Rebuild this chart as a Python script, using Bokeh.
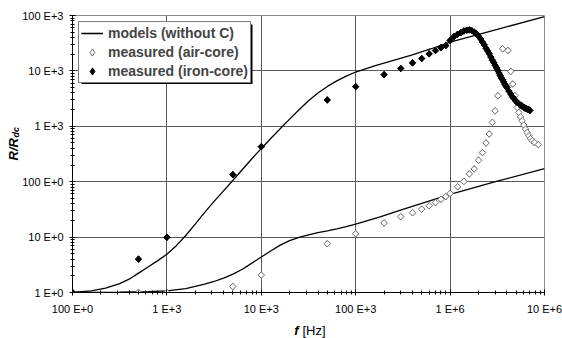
import math
from bokeh.plotting import figure
from bokeh.models import Range1d, FixedTicker, Legend, LegendItem, Label, BoxAnnotation
from bokeh.embed import file_html
from bokeh.resources import INLINE

# ---------------- data ----------------
# model curve, iron-core (upper)
model_hi_f = [100, 158, 224, 316, 398, 501, 631, 794, 1000, 1259, 1585, 1995, 2512, 3162, 3981,
              5012, 6310, 7943, 10000, 12589, 15849, 19953, 25119, 31623, 39811, 50119, 63096,
              79433, 100000, 158489, 251189, 398107, 630957, 1000000, 3162278, 10000000]
model_hi_r = [1.00, 1.07, 1.20, 1.45, 1.74, 2.24, 2.88, 3.72, 4.90, 7.0, 10.7, 17.2, 27.9, 44.2, 68.4,
              106, 166, 260, 398, 603, 902, 1349, 1995, 2884, 3981, 5248, 6607,
              8035, 9550, 12300, 15490, 19500, 25120, 33100, 56230, 95500]

# model curve, air-core (lower)
model_lo_f = [100, 316, 631, 1000, 1585, 2512, 3162, 3981, 5012, 6310, 7943, 10000, 12589, 15849,
              19953, 25119, 31623, 39811, 50119, 63096, 79433, 100000, 177828, 316228, 1000000,
              3162278, 10000000]
model_lo_r = [1.00, 1.01, 1.035, 1.07, 1.17, 1.41, 1.58, 1.82, 2.14, 2.63, 3.39, 4.37, 5.62, 7.16,
              8.61, 9.89, 10.96, 12.0, 13.0, 14.1, 15.5, 17.2, 22.9, 31.6, 58.9, 102, 172]

# measured, air-core
air_f = [100, 500, 1000, 5000, 10000, 50000, 100000, 200000, 300000, 400000, 500000, 600000,
         700000, 800000, 900000, 1.0e6, 1.2e6, 1.4e6, 1.6e6, 1.8e6, 2.0e6, 2.2e6, 2.4e6, 2.6e6,
         2.8e6, 3.0e6, 3.2e6, 3.6e6, 4.1e6, 4.4e6, 4.6e6, 4.85e6, 5.14e6, 5.35e6, 5.57e6, 5.8e6,
         6.04e6, 6.3e6, 6.56e6, 6.84e6, 7.1e6, 7.4e6, 7.8e6, 8.6e6]
air_r = [1.0, 1.0, 1.0, 1.28, 2.06, 7.6, 11.5, 18, 23.3, 27.5, 32, 36.8,
         42, 48, 54, 61.5, 81, 101, 138, 170, 245, 335, 500, 725,
         1180, 1900, 3550, 25000, 23400, 9800, 5800, 3580, 2190, 1780, 1480, 1260,
         1050, 890, 776, 676, 600, 550, 513, 468]

# measured, iron-core
iron_f = [100, 500, 1000, 5000, 10000, 50000, 100000, 200000, 300000, 400000, 500000, 600000,
          700000, 800000, 900000,
          1.0e6, 1.1e6, 1.2e6, 1.3e6, 1.4e6, 1.5e6, 1.6e6, 1.7e6, 1.8e6, 1.9e6,
          2.0e6, 2.1e6, 2.2e6, 2.3e6, 2.4e6, 2.5e6, 2.6e6, 2.7e6, 2.8e6, 2.9e6,
          3.0e6, 3.1e6, 3.2e6, 3.3e6, 3.4e6, 3.5e6, 3.6e6, 3.7e6, 3.8e6, 3.9e6,
          4.0e6, 4.2e6, 4.4e6, 4.6e6, 4.8e6, 5.0e6, 5.2e6, 5.4e6, 5.6e6, 5.8e6,
          6.0e6, 6.2e6, 6.4e6, 6.6e6, 6.8e6, 7.0e6]
iron_r = [1.0, 4.0, 9.9, 134, 429, 2990, 5200, 8550, 11100, 13960, 16700, 20300,
          23300, 26300, 28600,
          35480, 41690, 45710, 48980, 52480, 54330, 54950, 53090, 50120, 46770,
          42170, 38020, 33110, 29510, 25700, 22910, 20420, 17780, 15670, 14130,
          12590, 11350, 10230, 9120, 8220, 7410, 6920, 6310, 5750, 5370,
          5010, 4320, 3800, 3350, 3090, 2820, 2660, 2510, 2400, 2320,
          2210, 2140, 2090, 2040, 2000, 1930]

x_ticks = [100, 1000, 10000, 100000, 1000000, 10000000]
x_tick_labels = ["100 E+0", "1 E+3", "10 E+3", "100 E+3", "1 E+6", "10 E+6"]
y_ticks = [1, 10, 100, 1000, 10000, 100000]
y_tick_labels = ["1 E+0", "10 E+0", "100 E+0", "1 E+3", "10 E+3", "100 E+3"]

legend_labels = ["models (without C)", "measured (air-core)", "measured (iron-core)"]

# ---------------- layout ----------------
FONT = "Liberation Sans"
W, H = 562, 338
FL, FR, FT, FB = 72, 544, 15, 292          # frame edges in page pixels
XMIN, XMAX, YMIN, YMAX = 100, 1e7, 1, 1e5


def px2x(px):
    return 10 ** (math.log10(XMIN) + (px - FL) / (FR - FL) * (math.log10(XMAX) - math.log10(XMIN)))


def py2y(py):
    return 10 ** (math.log10(YMIN) + (FB - py) / (FB - FT) * (math.log10(YMAX) - math.log10(YMIN)))


p = figure(width=W, height=H, x_axis_type="log", y_axis_type="log",
           x_range=Range1d(XMIN, XMAX), y_range=Range1d(YMIN, YMAX),
           output_backend="svg", toolbar_location=None,
           min_border_left=FL, min_border_right=W - FR, min_border_top=FT, min_border_bottom=H - FB)
p.background_fill_color = "white"
p.border_fill_color = "white"
p.outline_line_color = "#8c8c8c"
p.outline_line_width = 1

x_minor = [m * 10 ** d for d in range(2, 7) for m in range(2, 10)]
y_minor = [m * 10 ** d for d in range(0, 5) for m in range(2, 10)]

p.xaxis.ticker = FixedTicker(ticks=x_ticks, minor_ticks=x_minor)
p.yaxis.ticker = FixedTicker(ticks=y_ticks, minor_ticks=y_minor)
p.xaxis.major_label_overrides = {t: s for t, s in zip(x_ticks, x_tick_labels)}
p.yaxis.major_label_overrides = {t: s for t, s in zip(y_ticks, y_tick_labels)}

for ax in (p.xaxis[0], p.yaxis[0]):
    ax.axis_line_color = "black"
    ax.axis_line_width = 1
    ax.major_tick_line_color = "black"
    ax.major_tick_in = 3
    ax.major_tick_out = 3
    ax.minor_tick_line_color = "black"
    ax.minor_tick_in = 2
    ax.minor_tick_out = 2
    ax.major_label_text_font = FONT
    ax.major_label_text_font_size = "11px"
    ax.major_label_text_color = "black"
p.xaxis.major_label_standoff = 7
p.yaxis.major_label_standoff = 6

p.xgrid.ticker = FixedTicker(ticks=x_ticks[1:-1])
p.ygrid.ticker = FixedTicker(ticks=y_ticks[1:-1])
for g in (p.xgrid[0], p.ygrid[0]):
    g.grid_line_color = "#5a5a5a"
    g.grid_line_width = 1

# ---------------- glyphs ----------------
l_hi = p.line(model_hi_f, model_hi_r, line_color="black", line_width=1.3)
l_lo = p.line(model_lo_f, model_lo_r, line_color="black", line_width=1.3)

# diamond-shaped twins (fully covered by the rotated squares) that give the legend its swatches
air_key = p.scatter(air_f, air_r, marker="diamond", size=6.4,
                    fill_color="white", line_color="#6e6e6e", line_width=1)
air = p.scatter(air_f, air_r, marker="square", angle=math.pi / 4, size=4.6,
                fill_color="white", line_color="#6e6e6e", line_width=1)
iron_key = p.scatter(iron_f, iron_r, marker="diamond", size=6.4,
                     fill_color="black", line_color="black", line_width=1)
iron = p.scatter(iron_f, iron_r, marker="square", angle=math.pi / 4, size=4.6,
                 fill_color="black", line_color="black", line_width=1)

# legend drop shadow
LG_L, LG_T, LG_R, LG_B = 78, 21, 249.5, 81
p.add_layout(BoxAnnotation(left=px2x(LG_L + 3), right=px2x(LG_R + 2.5),
                           top=py2y(LG_T + 3), bottom=py2y(LG_B + 2.5),
                           fill_color="black", fill_alpha=1.0, line_alpha=0))

legend = Legend(items=[LegendItem(label=legend_labels[0], renderers=[l_hi, l_lo]),
                       LegendItem(label=legend_labels[1], renderers=[air_key]),
                       LegendItem(label=legend_labels[2], renderers=[iron_key])],
                location="top_left", margin=6, padding=2, spacing=1,
                glyph_width=22, glyph_height=18, label_height=18, label_standoff=5,
                label_text_font=FONT, label_text_font_size="14px", label_text_font_style="bold",
                border_line_color="black", border_line_width=1,
                background_fill_color="white", background_fill_alpha=1.0)
p.add_layout(legend)

# ---------------- axis titles (placed in side panels so they are not clipped) ----------------
p.add_layout(Label(x=px2x(298), y=py2y(330), text="f",
                   text_font=FONT, text_font_size="13px", text_font_style="bold italic",
                   text_align="right", text_baseline="middle", text_color="black"), "below")
p.add_layout(Label(x=px2x(302), y=py2y(330), text="[Hz]",
                   text_font=FONT, text_font_size="13px", text_font_style="normal",
                   text_align="left", text_baseline="middle", text_color="black"), "above")
p.add_layout(Label(x=px2x(12.5), y=py2y(160), text="R/R", angle=math.pi / 2,
                   text_font=FONT, text_font_size="13px", text_font_style="bold italic",
                   text_align="left", text_baseline="middle", text_color="black"), "left")
p.add_layout(Label(x=px2x(15.5), y=py2y(137), text="dc", angle=math.pi / 2,
                   text_font=FONT, text_font_size="9px", text_font_style="bold italic",
                   text_align="left", text_baseline="middle", text_color="black"), "right")

open("out.html", "w").write(file_html(p, INLINE))
